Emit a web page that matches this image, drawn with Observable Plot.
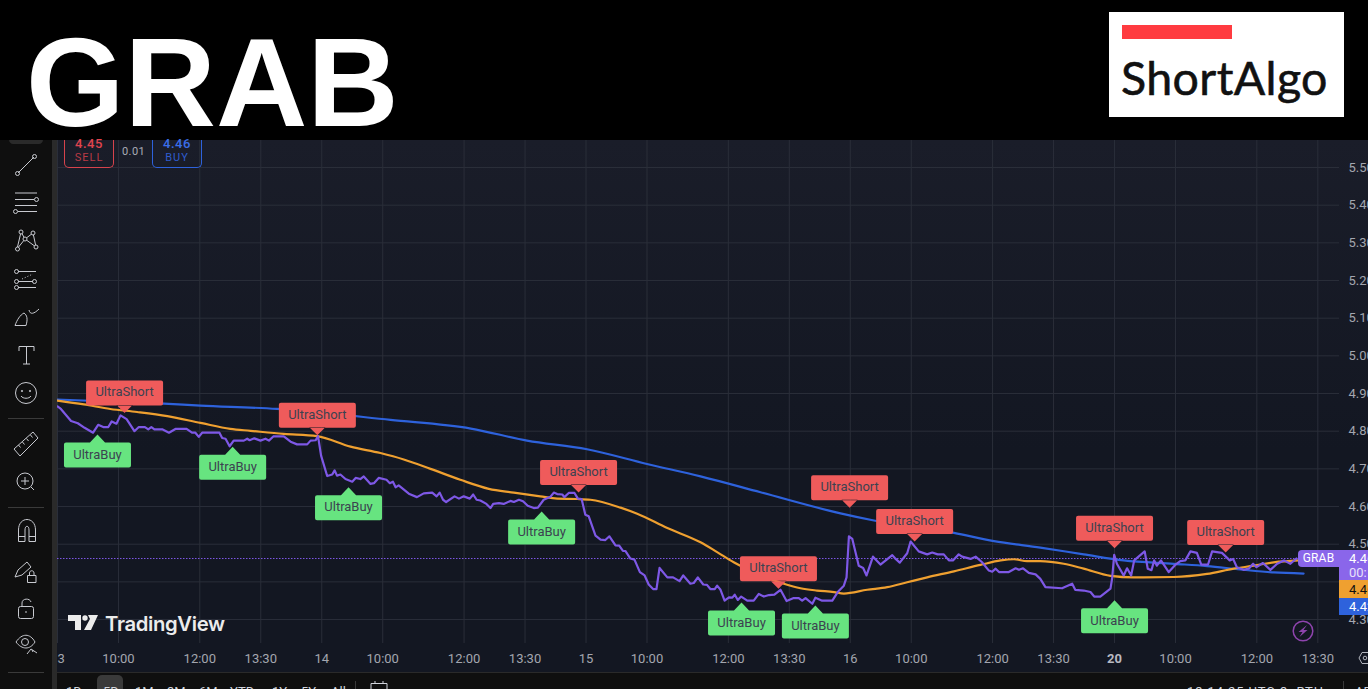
<!DOCTYPE html>
<html><head><meta charset="utf-8">
<script src="https://cdn.jsdelivr.net/npm/d3@7"></script>
<script src="https://cdn.jsdelivr.net/npm/@observablehq/plot@0.6"></script>
<style>
html,body{margin:0;padding:0;width:1368px;height:689px;overflow:hidden;background:#0f0f0f;font-family:Roboto,"Noto Sans",sans-serif}
#wrap{position:relative;width:1368px;height:689px;overflow:hidden;background:linear-gradient(#1a1d29 140px,#131722 450px)}
#chart{position:absolute;left:0;top:0}
#chart svg{display:block;background:transparent!important}
.a{position:absolute;white-space:nowrap}
#head{left:0;top:0;width:1368px;height:140px;background:#000}
#title{left:26px;top:12px;font:700 126.6px/140px "Liberation Sans",Arial,sans-serif;color:#fff}
#logo{left:1109px;top:12px;width:235px;height:105px;background:#fff}
#bar{left:13px;top:13px;width:110px;height:14px;background:#ff3b40}
#algo{left:12px;top:37px;font:400 46.5px/56px Lato,sans-serif;color:#111;letter-spacing:.4px;-webkit-text-stroke:.6px #111}
#tools{left:0;top:140px;width:52px;height:549px;background:#0f0f0f}
#sep{left:52px;top:140px;width:5px;height:549px;background:#2a2a2a}
#bot{left:57px;top:672px;width:1311px;height:17px;background:#0f0f0f;border-top:1px solid #2a2a2a;box-sizing:border-box}
.rng{top:684px;font:13px/15px Roboto,sans-serif;color:#d1d4dc}
</style></head><body>
<div id="wrap">
<div id="chart" class="a"></div>
<div id="head" class="a"></div>
<div id="title" class="a">GRAB</div>
<div id="logo" class="a"><div id="bar" class="a"></div><div id="algo" class="a">ShortAlgo</div></div>
<div class="a" style="left:64px;top:140px;width:50px;height:28px;box-sizing:border-box;border:1px solid #d7434c;border-top:none;border-radius:0 0 5px 5px" id="sell"></div>
<div class="a" style="left:152px;top:140px;width:50px;height:28px;box-sizing:border-box;border:1px solid #2e62dc;border-top:none;border-radius:0 0 5px 5px" id="buy"></div>
<div class="a" style="left:122px;top:145px;font:11px/13px Roboto,sans-serif;letter-spacing:.4px;color:#a9acb5">0.01</div>
<div id="tools" class="a"></div><div id="sep" class="a"></div>
<svg class="a" style="left:0;top:0" width="57" height="689" fill="none" stroke="#c8cad0" stroke-width="1">
<path d="M9 140H43V140C43 142 41 144 39 144H13C11 144 9 142 9 140Z" fill="#2a2a2a" stroke="none"/>
<path d="M18 173L34 157"/><circle cx="17.5" cy="173.5" r="2"/><circle cx="34.5" cy="156.5" r="2"/>
<path d="M15 193H37M15 199.5H34M15 205.5H37M18 211.5H37"/><circle cx="36.5" cy="199.5" r="2"/><circle cx="15.5" cy="211.5" r="2"/>
<path d="M17 249L21 232L25 239L33 233L36 247L25 239L17 249"/><circle cx="17.5" cy="249" r="2" fill="#0f0f0f"/><circle cx="21" cy="232" r="2" fill="#0f0f0f"/><circle cx="33" cy="233" r="2" fill="#0f0f0f"/><circle cx="36" cy="247" r="2" fill="#0f0f0f"/><circle cx="25" cy="239" r="2" fill="#0f0f0f"/>
<path d="M18 271.5H36M18 281.5H33M18 287.5H36"/><path d="M22 279L33 274" stroke-dasharray="1 2"/><circle cx="16.5" cy="271.5" r="2"/><circle cx="16.5" cy="281.5" r="2"/><circle cx="34.5" cy="281.5" r="2"/><circle cx="16.5" cy="287.5" r="2"/>
<path d="M15 325.5H26C28 319 27 315 24 313C20 315 17 320 15 325.5ZM29 310C30 315 34 314 39 309"/>
<path d="M19 346.5H34M19 346.5V351M34 346.5V351M26.5 346.5V364M23 364H30"/>
<circle cx="26" cy="393" r="10.5"/><circle cx="22" cy="391" r=".7"/><circle cx="30" cy="391" r=".7"/><path d="M21 396C23 399 29 399 31 396"/>
<path d="M8 418.5H44M8 507.5H44M8 672.5H44" stroke="#3a3a3a"/>
<path d="M14 449L33 432L38 438L20 456ZM18.5 445l2 2.5M22.5 442l2 2.5M26.5 438.5l2 2.5M30.5 435l2 2.5"/>
<circle cx="25" cy="481" r="8"/><path d="M21 481H29M25 477V485M31 487L34 490"/>
<path d="M18.5 541.5V530C18.5 516 35.5 516 35.5 530V541.5H29V530C29 525 25 525 25 530V541.5ZM18.5 536.5H25M29 536.5H35.5"/>
<path d="M15 577L18 570L27 562L31 567L22 575ZM27.5 582.5V575.5H36V582.5ZM29.5 575.5V573C29.5 570 34 570 34 573V575.5"/>
<rect x="18.5" y="606.5" width="15" height="12" rx="2"/><path d="M22 606V603C22 598 30 598 31 602M26 611V613"/>
<path d="M16 642C22 633 30 633 35 642C30 650 22 650 16 642Z"/><circle cx="25" cy="642" r="3.5"/><path d="M27 654L31 649L37 653M32 650L33 652"/>
</svg>
<div class="a" style="left:68px;top:610px;width:160px;height:26px;color:#ececec;font:600 20.3px/27px Inter,sans-serif;letter-spacing:-.35px">
<svg width="30" height="16" viewBox="0 0 30 16" style="position:absolute;left:0;top:5px"><path fill="#ececec" d="M0 0H13V15H7V6H0ZM20 0H30L23 15H16L22 4Z"/><circle cx="17" cy="3" r="2.7" fill="#ececec"/></svg>
<span style="position:absolute;left:37px;top:0">TradingView</span></div>
<svg class="a" style="left:1290px;top:618px" width="26" height="26" fill="none"><circle cx="13" cy="13" r="9.8" stroke="#8e44ad" stroke-width="1.5"/><path d="M17 7L8.5 14H12.5L9.5 19L17.5 12H13.5Z" fill="#8e44ad"/></svg>
<svg class="a" style="left:1358px;top:650px" width="10" height="16" fill="none" stroke="#b2b5be"><path d="M1 8L4 2.5H10M1 8L4 13.5H10"/><circle cx="7" cy="8" r="1.8"/></svg>
<div id="bot" class="a"></div>
<div class="a" style="left:97px;top:675px;width:26px;height:14px;border-radius:5px 5px 0 0;background:#3a3a3a"></div>
<div class="a rng" style="left:66px">1D</div><div class="a rng" style="left:103px">5D</div><div class="a rng" style="left:135px">1M</div><div class="a rng" style="left:167px">3M</div><div class="a rng" style="left:199px">6M</div><div class="a rng" style="left:230px">YTD</div><div class="a rng" style="left:272px">1Y</div><div class="a rng" style="left:301px">5Y</div><div class="a rng" style="left:331px">All</div>
<div class="a" style="left:355px;top:681px;width:1px;height:8px;background:#3a3a3a"></div>
<svg class="a" style="left:370px;top:680px" width="18" height="9" fill="none" stroke="#d1d4dc"><path d="M1 3.5H17M1 9V3.5M17 9V3.5M5 1V3.5M13 1V3.5"/></svg>
<div class="a rng" style="left:1187px;letter-spacing:.9px">13:14:25 UTC-3&nbsp; RTH</div>
<div class="a" style="left:1343px;top:681px;width:1px;height:8px;background:#3a3a3a"></div>
<div class="a rng" style="left:1355px">ADJ</div>
</div>
<script>
const priceTicks=[5.5,5.4,5.3,5.2,5.1,5.0,4.9,4.8,4.7,4.6,4.5,4.4,4.3];
const dayBars=[0,78,156,234];
const dayLabels=["13","14","15","16"];
const monthBars=[312];
const monthLabels=["20"];
const timeBars=[18,42,60,96,120,138,174,198,216,252,276,294,330,354,372];
const timeLabels=["10:00","12:00","13:30","10:00","12:00","13:30","10:00","12:00","13:30","10:00","12:00","13:30","10:00","12:00","13:30"];
const lastPrice=4.462;

const priceBars=[0,1,4,6,8,10.5,12,13.5,15,16,17.4,18.6,20.4,22.7,24,25.8,26.8,27.7,28.6,30.9,32.9,34.8,38.1,39.7,40.7,41.7,42.7,47.8,48.6,49.6,50.8,52,55,56,56.7,58.1,59.9,61.4,62.4,63.7,66.8,68.8,70.7,73.7,74.7,76.2,76.9,77.8,79.6,81.1,81.8,82.5,83.5,85,87,88,89.4,90.4,92.4,93.4,94.8,97.1,98.1,99,99.8,100.7,103.7,106.1,108.1,110.6,111.9,112.8,113.8,114.7,117.2,118.5,119.9,121.7,122.7,123.7,124.8,126.6,127.8,128.6,130.3,131.7,133.7,134.7,136.2,137.4,138.8,140.6,141.8,143.5,145.5,146.5,147.5,149,149.6,150.9,152.6,153.6,154.7,155.8,156.8,158.8,160.3,161.7,162.9,164.7,165.8,166.9,167.6,169.1,170.3,171.9,173.3,174.5,175.8,176.8,177.7,180,181.7,183.6,184.7,186.8,187.8,189,190.6,191.7,192.7,194,194.7,195.7,196.9,198.2,199.2,199.9,200.8,201.8,203.6,205.5,207,208.5,210,211.6,213.4,215.2,217.3,218.8,219.8,220.8,222.8,223.7,225.7,228.7,230.3,232.1,232.9,233.6,234.6,236.5,237.8,238.8,240.7,242.9,246.4,247.4,248.6,250.8,251.8,254.2,256.7,258.2,259.8,261.6,263.1,264.3,266,267,269.5,271,272.9,274.9,275.9,276.9,277.9,280.8,282.8,283.8,285,286.7,288.7,290.1,291.6,296.5,299.5,300.4,302.9,304.9,306,307.8,310.8,311.3,311.9,312.7,314.7,315.7,316.9,317.8,320.9,321.8,322.9,323.7,324.5,325.7,328,329.9,331.4,332.9,334.4,336.3,337.6,339.6,340.8,343.7,346,347,348.1,350.1,351.6,352.9,353.9,355.8,358,360,362,363.9,365.7];
const priceValues=[4.866,4.859,4.827,4.821,4.809,4.796,4.817,4.811,4.811,4.826,4.820,4.842,4.832,4.800,4.811,4.811,4.805,4.811,4.805,4.805,4.796,4.806,4.806,4.796,4.796,4.785,4.796,4.796,4.782,4.780,4.760,4.775,4.775,4.780,4.776,4.781,4.775,4.780,4.775,4.786,4.786,4.772,4.765,4.765,4.775,4.776,4.787,4.735,4.681,4.685,4.696,4.682,4.685,4.673,4.666,4.676,4.673,4.680,4.660,4.662,4.676,4.671,4.662,4.666,4.651,4.656,4.634,4.625,4.635,4.637,4.627,4.637,4.618,4.612,4.627,4.621,4.627,4.621,4.632,4.618,4.616,4.607,4.596,4.607,4.609,4.607,4.615,4.612,4.618,4.614,4.602,4.596,4.597,4.618,4.626,4.637,4.633,4.632,4.625,4.636,4.636,4.621,4.620,4.578,4.574,4.523,4.512,4.511,4.521,4.497,4.496,4.482,4.482,4.462,4.459,4.426,4.417,4.393,4.381,4.381,4.437,4.412,4.412,4.402,4.417,4.395,4.397,4.412,4.393,4.392,4.381,4.381,4.390,4.379,4.350,4.359,4.358,4.366,4.352,4.361,4.350,4.350,4.368,4.361,4.365,4.366,4.379,4.349,4.357,4.357,4.350,4.357,4.342,4.358,4.350,4.350,4.373,4.390,4.412,4.521,4.514,4.443,4.437,4.417,4.467,4.446,4.471,4.461,4.451,4.476,4.507,4.481,4.473,4.478,4.473,4.473,4.457,4.457,4.473,4.467,4.461,4.467,4.452,4.430,4.427,4.435,4.426,4.426,4.436,4.432,4.436,4.424,4.420,4.408,4.386,4.383,4.395,4.379,4.377,4.373,4.361,4.361,4.382,4.410,4.472,4.448,4.417,4.436,4.417,4.457,4.481,4.435,4.431,4.457,4.443,4.457,4.426,4.445,4.455,4.457,4.481,4.477,4.446,4.446,4.481,4.477,4.457,4.461,4.439,4.432,4.435,4.448,4.439,4.450,4.432,4.448,4.457,4.448,4.462];

const fastBars=[0,7.8,15.6,23.5,32.4,42.2,51,57,66.8,76.6,86.5,95.3,102.2,110.1,118.9,127.3,134.7,142.5,147.5,153.4,157.3,166.2,171.1,180,189.8,194.7,199.6,207,214.4,219.3,224.2,229.2,232.1,239,244.9,250.8,256.7,264.6,272.4,278.4,282.3,286.2,290.1,297,302.9,310.8,317.6,329.5,339.3,347.2,353.1,359,366.4];
const fastValues=[4.881,4.871,4.859,4.851,4.840,4.822,4.806,4.801,4.793,4.787,4.759,4.742,4.725,4.700,4.671,4.647,4.637,4.627,4.621,4.620,4.618,4.597,4.581,4.543,4.505,4.479,4.452,4.420,4.395,4.383,4.377,4.373,4.369,4.379,4.386,4.399,4.412,4.428,4.445,4.457,4.460,4.455,4.455,4.448,4.435,4.416,4.412,4.413,4.421,4.435,4.443,4.452,4.457];

const slowBars=[0,31.4,42.2,64.8,98.3,122,138.6,156.3,174,189.8,207.5,231.1,241,264.6,276.4,290.1,302.9,314.7,329.5,339.3,349.1,359,367.8];
const slowValues=[4.884,4.873,4.868,4.859,4.830,4.807,4.775,4.752,4.713,4.680,4.638,4.582,4.563,4.530,4.508,4.491,4.473,4.457,4.448,4.442,4.433,4.425,4.422];

const shortBars=[19.8,76.7,153.8,233.8,253,212.8,312,344.8];
const shortPrices=[4.848,4.789,4.637,4.597,4.507,4.382,4.489,4.478];
const buyBars=[11.8,51.7,85.9,142.9,201.9,223.7,312];
const buyPrices=[4.791,4.759,4.651,4.587,4.345,4.337,4.351];

const pts=(a,b)=>a.map((x,i)=>({x,y:b[i]}));
const round=(c,x,y,w,h,r)=>{c.moveTo(x+r,y);c.arcTo(x+w,y,x+w,y+h,r);c.arcTo(x+w,y+h,x,y+h,r);c.arcTo(x,y+h,x,y,r);c.arcTo(x,y,x+w,y,r);c.closePath();};
const shortSymbol={draw(c){round(c,-38.5,-32.5,77,25,2);c.moveTo(-8,-8);c.lineTo(0,0);c.lineTo(8,-8);c.closePath();}};
const buySymbol={draw(c){round(c,-33.5,8,67,25,2);c.moveTo(-8,8.5);c.lineTo(0,0);c.lineTo(8,8.5);c.closePath();}};

const axisColor="#a3a6af";
const chart=Plot.plot({
  width:1368,height:689,marginLeft:57,marginRight:29,marginTop:140,marginBottom:46,
  style:{background:"transparent",fontFamily:"Roboto, sans-serif",overflow:"hidden"},
  x:{type:"linear",domain:[0,378.4],label:null},
  y:{type:"linear",domain:[4.2364,5.5717],label:null},
  marks:[
    Plot.gridY(priceTicks,{stroke:"#2a2e39",strokeOpacity:1,strokeWidth:1}),
    Plot.gridX([...dayBars,...monthBars,...timeBars],{stroke:"#2a2e39",strokeOpacity:1,strokeWidth:1}),
    Plot.axisY({anchor:"right",ticks:priceTicks,tickSize:0,tickPadding:9,tickFormat:d3.format(".2f"),label:null,fontSize:13,fill:axisColor}),
    Plot.axisX({anchor:"bottom",ticks:timeBars,tickSize:0,tickPadding:10,tickFormat:d=>timeLabels[timeBars.indexOf(d)],label:null,fontSize:13,fill:axisColor}),
    Plot.axisX({anchor:"bottom",ticks:dayBars,tickSize:0,tickPadding:10,tickFormat:d=>dayLabels[dayBars.indexOf(d)],label:null,fontSize:13,fill:axisColor}),
    Plot.axisX({anchor:"bottom",ticks:monthBars,tickSize:0,tickPadding:10,tickFormat:d=>monthLabels[monthBars.indexOf(d)],label:null,fontSize:13,fontWeight:700,fill:"#b8bac2"}),
    Plot.ruleY([lastPrice],{stroke:"#7e58e6",strokeDasharray:"1.5 1.5",strokeWidth:1,x1:0,x2:366.3}),
    Plot.line(pts(slowBars,slowValues),{x:"x",y:"y",stroke:"#2e62dc",strokeWidth:2.2,curve:"monotone-x"}),
    Plot.line(pts(fastBars,fastValues),{x:"x",y:"y",stroke:"#efa030",strokeWidth:2.2,curve:"monotone-x"}),
    Plot.line(pts(priceBars,priceValues),{x:"x",y:"y",stroke:"#7e58e6",strokeWidth:2.2,curve:"linear"}),
    Plot.dot(pts(shortBars,shortPrices),{x:"x",y:"y",symbol:shortSymbol,fill:"#ef5b5b",stroke:"none",r:5}),
    Plot.dot(pts(buyBars,buyPrices),{x:"x",y:"y",symbol:buySymbol,fill:"#67e480",stroke:"none",r:5}),
    Plot.text(pts(shortBars,shortPrices),{x:"x",y:"y",text:()=>"UltraShort",dy:-21,fill:"#3c4250",fontSize:13}),
    Plot.text(pts(buyBars,buyPrices),{x:"x",y:"y",text:()=>"UltraBuy",dy:20,fill:"#3c4250",fontSize:13})
  ]
});
document.getElementById("chart").appendChild(chart);
const wrap=document.getElementById("wrap");
function add(html){const d=document.createElement("div");d.innerHTML=html;wrap.appendChild(d.firstChild);}
add(`<div class="a" style="left:1298px;top:550px;width:41px;height:17px;background:#8a66ea;border-radius:4px 0 0 4px;color:#fff;font:12px/17px Roboto,sans-serif;text-align:center;letter-spacing:.2px">GRAB</div>`);
add(`<div class="a" style="left:1339px;top:550px;width:29px;height:30px;background:#8a66ea;color:#fff;font:13px/14px Roboto,sans-serif;padding:2px 0 0 10px;box-sizing:border-box;overflow:hidden">4.46<br><span style="opacity:.8">00:</span></div>`);
add(`<div class="a" style="left:1339px;top:580px;width:29px;height:18px;background:#efa030;color:#111;font:13px/19px Roboto,sans-serif;padding-left:10px;box-sizing:border-box;overflow:hidden">4.46</div>`);
add(`<div class="a" style="left:1339px;top:598px;width:29px;height:17px;background:#2e62dc;color:#fff;font:13px/17px Roboto,sans-serif;padding-left:10px;box-sizing:border-box;overflow:hidden">4.42</div>`);
const cell=(t,top,font,color,sp)=>`<div style="position:absolute;left:0;width:48px;text-align:center;top:${top}px;font:${font};line-height:12px;letter-spacing:${sp}px;color:${color}">${t}</div>`;
document.getElementById("sell").innerHTML=cell("4.45",-2,"500 13px Roboto,sans-serif","#e0444f",.5)+cell("SELL",12,"11px Roboto,sans-serif","#b83a45",1);
document.getElementById("buy").innerHTML=cell("4.46",-2,"500 13px Roboto,sans-serif","#3a6ee8",.5)+cell("BUY",12,"11px Roboto,sans-serif","#2f5ccf",1);
</script>
</body></html>
